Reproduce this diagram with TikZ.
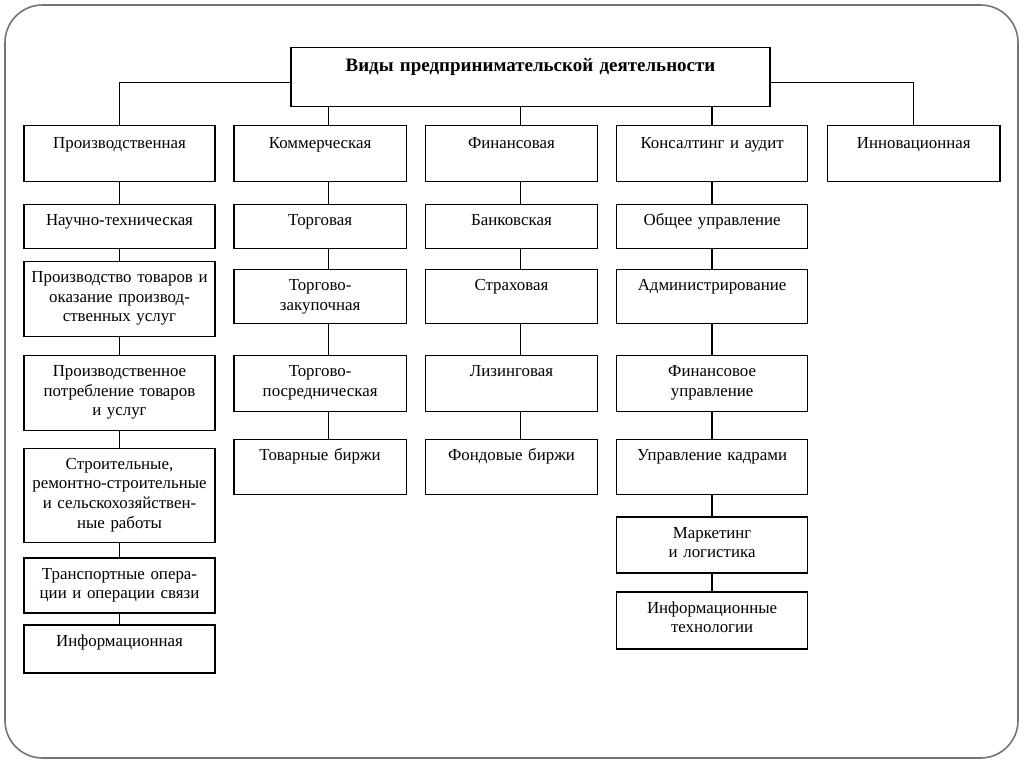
\documentclass[tikz,border=0pt]{standalone}
\usepackage{fontspec}
\setmainfont{Liberation Serif}
\usepackage{tikz}
\usetikzlibrary{positioning}
\tikzstyle{frame} = [draw=black!55, line width=0.9pt, rounded corners=0.75cm]
\tikzstyle{vid} = [rectangle, draw, line width=0.8pt, align=center,
    inner xsep=0pt, inner ysep=0pt, text height=0.42cm,
    font=\fontsize{9.6}{11.2}\selectfont]
\tikzstyle{wide} = [vid, text width=3.82cm]
\tikzstyle{narrow} = [vid, text width=3.45cm]
\tikzstyle{line} = [draw, line width=0.8pt]

\begin{document}
\begin{tikzpicture}[x=0.02cm, y=-0.02cm]
  \useasboundingbox (0,0) rectangle (1024,767);
  \draw [frame] (5,5) rectangle (1018,758);
  % Place nodes
  \node [vid, anchor=north, text width=9.58cm, text height=0.48cm, text depth=0.70cm,
         font=\fontsize{10.8}{12}\selectfont\bfseries] (vidy) at (530.5,47)
        {Виды предпринимательской деятельности};
  \node [wide, anchor=north, text height=0.46cm, text depth=0.66cm] (proizv) at (119.5,125) {Производственная};
  \node [narrow, right=0.35cm of proizv, text height=0.46cm, text depth=0.66cm] (komm) {Коммерческая};
  \node [narrow, right=0.35cm of komm, text height=0.46cm, text depth=0.66cm] (fin) {Финансовая};
  \node [wide, right=0.35cm of fin, text height=0.46cm, text depth=0.66cm] (kons) {Консалтинг и аудит};
  \node [narrow, right=0.37cm of kons, text height=0.46cm, text depth=0.66cm] (innov) {Инновационная};
  % Производственная
  \node [wide, below=0.43cm of proizv, text depth=0.46cm] (nauch) {Научно-техническая};
  \node [wide, below=0.23cm of nauch, text depth=1.08cm] (tovar)
        {Производство товаров и\\оказание производ-\\ственных услуг};
  \node [wide, below=0.35cm of tovar, text depth=1.08cm] (potreb)
        {Производственное\\потребление товаров\\и услуг};
  \node [wide, below=0.33cm of potreb, text depth=1.46cm] (stroit)
        {Строительные,\\ремонтно-строительные\\и сельскохозяйствен-\\ные работы};
  \node [wide, below=0.29cm of stroit, text depth=0.68cm] (transp)
        {Транспортные опера-\\ции и операции связи};
  \node [wide, below=0.21cm of transp, text depth=0.54cm] (inform) {Информационная};
  % Коммерческая
  \node [narrow, below=0.43cm of komm, text depth=0.46cm] (torg) {Торговая};
  \node [narrow, below=0.39cm of torg, text depth=0.66cm] (zakup) {Торгово-\\закупочная};
  \node [narrow, below=0.61cm of zakup, text depth=0.70cm] (posred) {Торгово-\\посредническая};
  \node [narrow, below=0.53cm of posred, text depth=0.68cm] (tovbirzh) {Товарные биржи};
  % Финансовая
  \node [narrow, below=0.43cm of fin, text depth=0.46cm] (bank) {Банковская};
  \node [narrow, below=0.39cm of bank, text depth=0.66cm] (strakh) {Страховая};
  \node [narrow, below=0.61cm of strakh, text depth=0.70cm] (lizing) {Лизинговая};
  \node [narrow, below=0.53cm of lizing, text depth=0.68cm] (fondbirzh) {Фондовые биржи};
  % Консалтинг и аудит
  \node [wide, below=0.43cm of kons, text depth=0.46cm] (obshch) {Общее управление};
  \node [wide, below=0.39cm of obshch, text depth=0.66cm] (admin) {Администрирование};
  \node [wide, below=0.61cm of admin, text depth=0.70cm] (finupr) {Финансовое\\управление};
  \node [wide, below=0.53cm of finupr, text depth=0.68cm] (kadry) {Управление кадрами};
  \node [wide, below=0.43cm of kadry, text depth=0.70cm] (market) {Маркетинг\\и логистика};
  \node [wide, below=0.35cm of market, text depth=0.72cm] (infotech) {Информационные\\технологии};
  % Draw edges
  \coordinate (kline) at ([xshift=0.17cm]komm.north);
  \coordinate (fline) at ([xshift=0.18cm]fin.north);
  \path [line] ([yshift=-0.11cm]vidy.west) -| (proizv.north);
  \path [line] ([yshift=-0.11cm]vidy.east) -| (innov.north);
  \path [line] (kline |- vidy.south) -- (kline);
  \path [line] (fline |- vidy.south) -- (fline);
  \path [line] (kons.north |- vidy.south) -- (kons.north);
  \foreach \a/\b in {proizv/nauch, nauch/tovar, tovar/potreb, potreb/stroit,
                     stroit/transp, transp/inform, kons/obshch, obshch/admin,
                     admin/finupr, finupr/kadry, kadry/market, market/infotech}
    \path [line] (\a.south) -- (\b.north);
  \foreach \a/\b in {komm/torg, torg/zakup, zakup/posred, posred/tovbirzh}
    \path [line] ([xshift=0.17cm]\a.south) -- ([xshift=0.17cm]\b.north);
  \foreach \a/\b in {fin/bank, bank/strakh, strakh/lizing, lizing/fondbirzh}
    \path [line] ([xshift=0.18cm]\a.south) -- ([xshift=0.18cm]\b.north);
\end{tikzpicture}
\end{document}
